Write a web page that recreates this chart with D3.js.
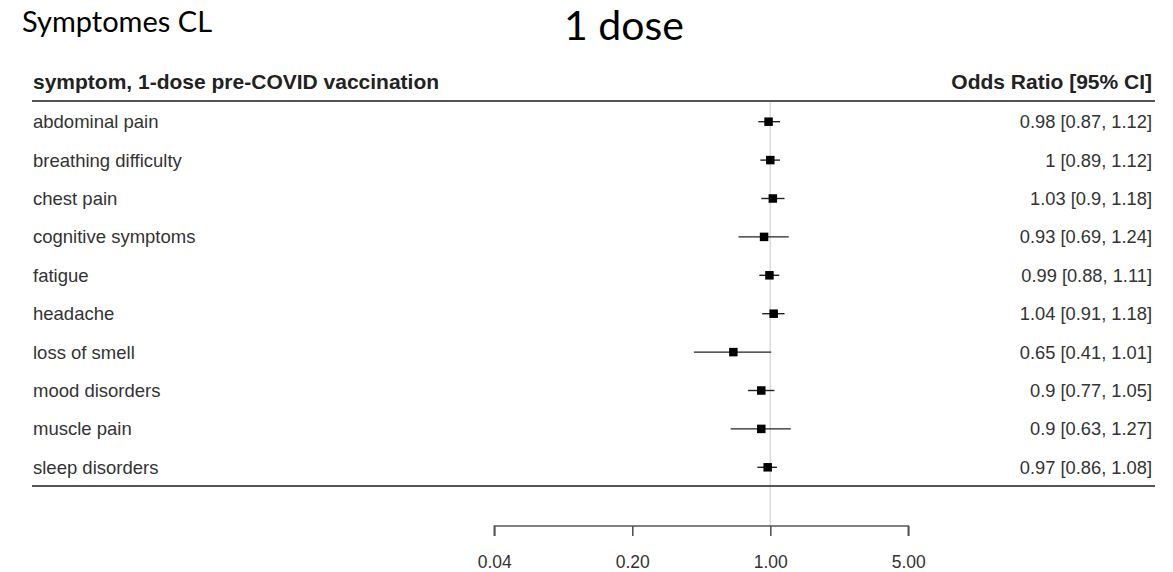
<!DOCTYPE html>
<html>
<head>
<meta charset="utf-8">
<script src="https://cdn.jsdelivr.net/npm/d3@7"></script>
<style>
  html, body { margin: 0; padding: 0; background: #fff; }
  svg { display: block; }
</style>
</head>
<body>
<svg id="chart" width="1173" height="572"></svg>
<script>
const symptoms = ["abdominal pain","breathing difficulty","chest pain","cognitive symptoms","fatigue","headache","loss of smell","mood disorders","muscle pain","sleep disorders"];
const oddsRatio = [0.98, 1, 1.03, 0.93, 0.99, 1.04, 0.65, 0.9, 0.9, 0.97];
const ciLower   = [0.87, 0.89, 0.9, 0.69, 0.88, 0.91, 0.41, 0.77, 0.63, 0.86];
const ciUpper   = [1.12, 1.12, 1.18, 1.24, 1.11, 1.18, 1.01, 1.05, 1.27, 1.08];
const tickValues = [0.04, 0.2, 1, 5];
const tickLabels = ["0.04", "0.20", "1.00", "5.00"];

const svg = d3.select("#chart");
const x = d3.scaleLog().domain([0.04, 5]).range([494.3, 908.3]);
const y = d3.scalePoint().domain(symptoms).range([121.7, 467.3]);

const rows = symptoms.map((s, i) => ({ s, or: oddsRatio[i], lo: ciLower[i], hi: ciUpper[i] }));
const FONT = "'Liberation Sans', Arial, sans-serif";

// Titles
svg.append("text").attr("x", 22).attr("y", 32)
  .attr("font-family", "Lato, 'Open Sans', sans-serif").attr("font-size", 29)
  .attr("fill", "#000").text("Symptomes CL");
svg.append("text").attr("x", 564).attr("y", 40)
  .attr("font-family", "Lato, 'Open Sans', sans-serif").attr("font-size", 41)
  .attr("fill", "#000").text("1 dose");

// Reference line
svg.append("line").attr("x1", x(1)).attr("x2", x(1)).attr("y1", 101).attr("y2", 526)
  .attr("stroke", "#dcdcdc").attr("stroke-width", 1.6);

// Headers
svg.append("text").attr("x", 33).attr("y", 89)
  .attr("font-family", FONT).attr("font-weight", "bold")
  .attr("font-size", 21).attr("fill", "#222").text("symptom, 1-dose pre-COVID vaccination");
svg.append("text").attr("x", 1152).attr("y", 89).attr("text-anchor", "end")
  .attr("font-family", FONT).attr("font-weight", "bold")
  .attr("font-size", 21).attr("fill", "#222").text("Odds Ratio [95% CI]");

// Horizontal rules
[101, 486].forEach(yy => svg.append("line").attr("x1", 32).attr("x2", 1155)
  .attr("y1", yy).attr("y2", yy).attr("stroke", "#555").attr("stroke-width", 1.8));

// Row labels
svg.append("g").selectAll("text").data(rows).join("text")
  .attr("x", 33).attr("y", d => y(d.s)).attr("dy", "0.35em")
  .attr("font-family", FONT).attr("font-size", 18.5)
  .attr("fill", "#333").text(d => d.s);

// Estimates text
svg.append("g").selectAll("text").data(rows).join("text")
  .attr("x", 1152).attr("y", d => y(d.s)).attr("dy", "0.35em").attr("text-anchor", "end")
  .attr("font-family", FONT).attr("font-size", 18.3)
  .attr("fill", "#333").text(d => `${d.or} [${d.lo}, ${d.hi}]`);

// CI lines
svg.append("g").selectAll("line").data(rows).join("line")
  .attr("x1", d => x(d.lo)).attr("x2", d => x(d.hi))
  .attr("y1", d => y(d.s)).attr("y2", d => y(d.s))
  .attr("stroke", "#222").attr("stroke-width", 1.4);

// Squares
const sq = 8.5;
svg.append("g").selectAll("rect").data(rows).join("rect")
  .attr("x", d => x(d.or) - sq / 2).attr("y", d => y(d.s) - sq / 2)
  .attr("width", sq).attr("height", sq).attr("fill", "#000");

// Axis
const axis = d3.axisBottom(x).tickValues(tickValues)
  .tickFormat((d, i) => tickLabels[i]).tickSize(10).tickSizeOuter(0);
const gAxis = svg.append("g").attr("transform", "translate(0,526)").call(axis);
gAxis.select(".domain").attr("stroke", "#555").attr("stroke-width", 1.6)
  .attr("d", `M${x(0.04)},10V0H${x(5)}V10`);
gAxis.selectAll(".tick line").attr("stroke", "#555").attr("stroke-width", 1.6);
gAxis.selectAll(".tick text").attr("y", 30)
  .attr("font-family", FONT).attr("font-size", 17.5)
  .attr("fill", "#333");
</script>
</body>
</html>
